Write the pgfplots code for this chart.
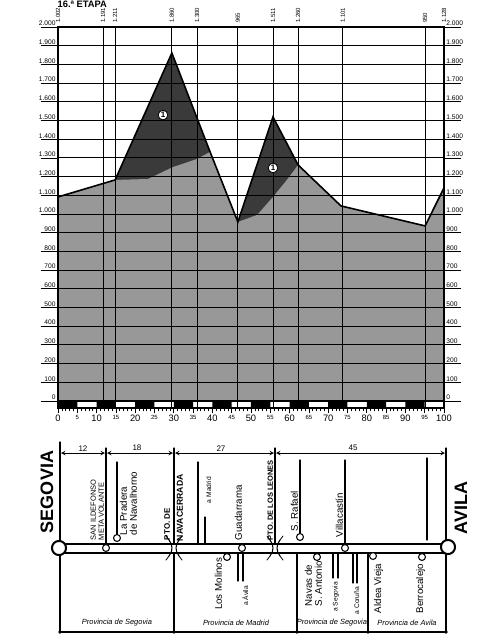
\documentclass[border=0pt]{standalone}
\usepackage{fontspec}
\setmainfont{Liberation Sans}
\usepackage{pgfplots}
\pgfplotsset{compat=1.18}
\definecolor{profgray}{HTML}{989898}
\definecolor{profdark}{HTML}{3A3A3A}
\newcommand\sm[1]{{\fontsize{4.5}{4.5}\selectfont #1}}
\newcommand\lab{\fontsize{7.3}{7.3}\selectfont}
\newcommand\capl{\fontsize{5.6}{6}\selectfont}
\begin{document}
\begin{tikzpicture}
\useasboundingbox (0,0) rectangle (360pt,-480pt);
% ---------------- main profile axis ----------------
\begin{axis}[
  at={(43.5pt,-306pt)}, anchor=south west,
  scale only axis, width=289.5pt, height=285.75pt,
  xmin=0, xmax=100, ymin=-38, ymax=2000,
  axis on top,
  axis line style={line width=1.1pt},
  xtick={0,11.7,14.8,29.5,36.0,46.6,55.7,62.2,73.8,95.1,100},
  xticklabels={1.002,1.191,1.211,1.860,1.300,965,1.511,1.260,1.101,950,1.128},
  xticklabel pos=right,
  xtick style={draw=none},
  xticklabel shift=-11pt,
  xticklabel style={rotate=90, anchor=west, font=\fontsize{4.5}{4.5}\selectfont, inner sep=1pt},
  xmajorgrids,
  ytick={0,100,...,2000},
  ymajorgrids,
  ytick pos=both,
  yticklabel pos=left,
  tick align=outside,
  major tick length=13pt,
  ytick style={line width=0.5pt, black},
  yticklabel shift=-12pt,
  yticklabel style={anchor=south east, font=\fontsize{5}{5}\selectfont, inner sep=0.6pt},
  /pgf/number format/1000 sep={.},
  /pgf/number format/assume math mode=true,
  major grid style={black, line width=0.6pt},
]
\addplot[fill=profdark, draw=none] coordinates {
 (0,1091) (14.8,1182) (29.5,1861) (39.4,1332) (46.6,957) (55.7,1519)
 (62.2,1262) (73.3,1043) (95.1,936) (100,1139) (100,0) (0,0)};
\addplot[fill=profgray, draw=none] coordinates {
 (0,1091) (14.8,1182) (23.3,1187) (29.8,1251) (36.0,1294) (39.4,1332)
 (46.6,957) (51.6,995) (55.7,1091) (59.3,1182) (62.2,1262) (73.3,1043)
 (95.1,936) (100,1139) (100,0) (0,0)};
\addplot[black, line width=1.2pt] coordinates {
 (0,1091) (14.8,1182) (29.5,1861) (39.4,1332) (46.6,957) (55.7,1519)
 (62.2,1262) (73.3,1043) (95.1,936) (100,1139)};
\addplot[fill=white, draw=black, line width=0.8pt] coordinates {(0,-38) (100,-38) (100,0) (0,0)} -- cycle;
\addplot[fill=black, draw=none] coordinates {
 (0,0) (0,-38) (5,-38) (5,0) (10,0) (10,-38) (15,-38) (15,0)
 (20,0) (20,-38) (25,-38) (25,0) (30,0) (30,-38) (35,-38) (35,0)
 (40,0) (40,-38) (45,-38) (45,0) (50,0) (50,-38) (55,-38) (55,0)
 (60,0) (60,-38) (65,-38) (65,0) (70,0) (70,-38) (75,-38) (75,0)
 (80,0) (80,-38) (85,-38) (85,0) (90,0) (90,-38) (95,-38) (95,0)};
\end{axis}
% ---------------- overlay axis ----------------
\begin{axis}[
  at={(43.5pt,-306pt)}, anchor=south west,
  scale only axis, width=289.5pt, height=285.75pt,
  xmin=0, xmax=100, ymin=-38, ymax=2000,
  axis line style={draw=none},
  xtick={0,5,...,100},
  xticklabels={0,\sm{5},10,\sm{15},20,\sm{25},30,\sm{35},40,\sm{45},50,\sm{55},60,\sm{65},70,\sm{75},80,\sm{85},90,\sm{95},100},
  minor x tick num=4,
  xtick pos=left,
  tick align=outside,
  major tick length=4pt, minor tick length=2.5pt,
  tick style={black, line width=0.5pt},
  xticklabel style={font=\fontsize{7}{7}\selectfont, inner sep=1pt},
  ytick={0,100,...,2000},
  yticklabel pos=right,
  ytick style={draw=none},
  yticklabel shift=-3pt,
  yticklabel style={anchor=south west, font=\fontsize{5}{5}\selectfont, inner sep=0.6pt},
  /pgf/number format/1000 sep={.},
  /pgf/number format/assume math mode=true,
]
\addplot[only marks, mark=*, mark size=3.6pt,
  mark options={fill=white, draw=black, line width=0.6pt},
  nodes near coords={\textbf{1}},
  every node near coord/.append style={anchor=center, font=\fontsize{6}{6}\selectfont, black}]
  coordinates {(27.2,1529) (55.7,1246)};
\end{axis}
% ---------------- route schematic (pixel units) ----------------
\begin{scope}[x=0.75pt, y=-0.75pt, line cap=round]
\node[anchor=north west, font=\fontsize{7}{7}\selectfont\bfseries, inner sep=0.3pt] at (57,0) {16.ª ETAPA};
\draw[line width=0.9pt] (60,442)--(60,632);
\draw[line width=0.9pt] (106,448)--(106,544);
\draw[line width=0.9pt] (174,448)--(174,632);
\draw[line width=0.9pt] (275,448)--(275,544);
\draw[line width=0.9pt] (446,448)--(446,632);
\draw[line width=0.9pt] (297,553)--(297,632);
\draw[line width=0.9pt] (368,553)--(368,632);
\draw[line width=0.9pt] (60,632)--(446,632);
\foreach \X in {60,174,297,368,446} \fill (\X,632) circle (1.4pt);
\draw[<->, >=stealth, line width=0.5pt] (61,453)--(105,453);
\draw[<->, >=stealth, line width=0.5pt] (107,453)--(173,453);
\draw[<->, >=stealth, line width=0.5pt] (175,453)--(274,453);
\draw[<->, >=stealth, line width=0.5pt] (276,453)--(445,453);
\node[anchor=south, inner sep=0.5pt, font=\fontsize{6}{6}\selectfont] at (83,452) {12};
\node[anchor=south, inner sep=0.5pt, font=\fontsize{6}{6}\selectfont] at (137,452) {18};
\node[anchor=south, inner sep=0.5pt, font=\fontsize{6}{6}\selectfont] at (221,452) {27};
\node[anchor=south, inner sep=0.5pt, font=\fontsize{6}{6}\selectfont] at (353,452) {45};
\draw[line width=0.9pt] (117,462)--(117,535);
\draw[line width=0.9pt] (198,462)--(198,544);
\draw[line width=0.9pt] (205,517)--(205,544);
\draw[line width=0.9pt] (300,460)--(300,534);
\draw[line width=0.9pt] (345,460)--(345,544);
\draw[line width=0.9pt] (427,458)--(427,540);
\draw[line width=0.8pt] (238,553)--(238,581) (243,553)--(243,581);
\draw[line width=0.8pt] (333,553)--(333,578) (338,553)--(338,578);
\draw[line width=0.8pt] (353,553)--(353,583) (357,553)--(357,583);
\draw[line width=1.1pt, fill=white] (60,544) rectangle (447,553);
\draw[line width=1.5pt, fill=white] (59,548) circle (5.3pt);
\draw[line width=1.5pt, fill=white] (448,547) circle (5.3pt);
\foreach \P in {(106,548),(117,538),(227,557),(242,548),(300,537),(317,557),(345,548),(373,556),(422,557)}
  \draw[line width=0.8pt, fill=white] \P circle (2.6pt);
\foreach \X in {174,275} {
  \fill[white] ({\X-4},545) rectangle ({\X+4},552);
  \draw[line width=0.8pt] ({\X-5},540) .. controls ({\X-1},545) and ({\X-1},551) .. ({\X-5},556);
  \draw[line width=0.8pt] ({\X+5},540) .. controls ({\X+1},545) and ({\X+1},551) .. ({\X+5},556);
  \draw[line width=0.6pt] ({\X-5},540)--({\X-8},536) ({\X-5},556)--({\X-8},560)
                          ({\X+5},540)--({\X+8},536) ({\X+5},556)--({\X+8},560);
}
\node[rotate=90, anchor=south west, align=left, font=\capl, inner sep=0.5pt] at (105,541) {SAN ILDEFONSO\\META VOLANTE};
\node[rotate=90, anchor=south west, align=left, font=\fontsize{7.3}{7.6}\selectfont, inner sep=0.5pt] at (138,536) {La Pradera\\de Navalhorno};
\node[rotate=90, anchor=south west, font=\fontsize{6}{6}\selectfont\bfseries, inner sep=0.5pt] at (171,541) {PTO. DE};
\node[rotate=90, anchor=south west, font=\fontsize{6.5}{6.5}\selectfont\bfseries, inner sep=0.5pt] at (184,542) {NAVACERRADA};
\node[rotate=90, anchor=south west, font=\fontsize{5}{5}\selectfont, inner sep=0.5pt] at (212,504) {a Madrid};
\node[rotate=90, anchor=south west, font=\lab, inner sep=0.5pt] at (243,541) {Guadarrama};
\node[rotate=90, anchor=south west, font=\fontsize{5.6}{5.6}\selectfont\bfseries, inner sep=0.5pt] at (274,541) {PTO. DE LOS LEONES};
\node[rotate=90, anchor=south west, font=\lab, inner sep=0.5pt] at (299,532) {S. Rafael};
\node[rotate=90, anchor=south west, font=\lab, inner sep=0.5pt] at (344,538) {Villacastín};
\node[rotate=90, anchor=south east, font=\lab, inner sep=0.5pt] at (223,557) {Los Molinos};
\node[rotate=90, anchor=south east, font=\fontsize{5}{5}\selectfont, inner sep=0.5pt] at (249,585) {a Ávila};
\node[rotate=90, anchor=south west, align=left, font=\fontsize{7.3}{7.6}\selectfont, inner sep=0.5pt] at (323,607) {Navas de\\S. Antonio};
\node[rotate=90, anchor=south east, font=\fontsize{5}{5}\selectfont, inner sep=0.5pt] at (340,581) {a Segovia};
\node[rotate=90, anchor=south east, font=\fontsize{5}{5}\selectfont, inner sep=0.5pt] at (360,586) {a Coruña};
\node[rotate=90, anchor=south east, font=\lab, inner sep=0.5pt] at (384,563) {Aldea Vieja};
\node[rotate=90, anchor=south east, font=\lab, inner sep=0.5pt] at (426,563) {Berrocalejo};
\node[font=\fontsize{5.6}{5.6}\selectfont\itshape] at (117,623) {Provincia de Segovia};
\node[font=\fontsize{5.6}{5.6}\selectfont\itshape] at (236,623) {Provincia de Madrid};
\node[font=\fontsize{5.6}{5.6}\selectfont\itshape] at (332,623) {Provincia de Segovia};
\node[font=\fontsize{5.6}{5.6}\selectfont\itshape] at (407,623) {Provincia de Avila};
\node[rotate=90, font=\fontsize{13.5}{13.5}\selectfont\bfseries] at (47,492) {SEGOVIA};
\node[rotate=90, font=\fontsize{13.5}{13.5}\selectfont\bfseries] at (461,508) {AVILA};
\end{scope}
\end{tikzpicture}
\end{document}
